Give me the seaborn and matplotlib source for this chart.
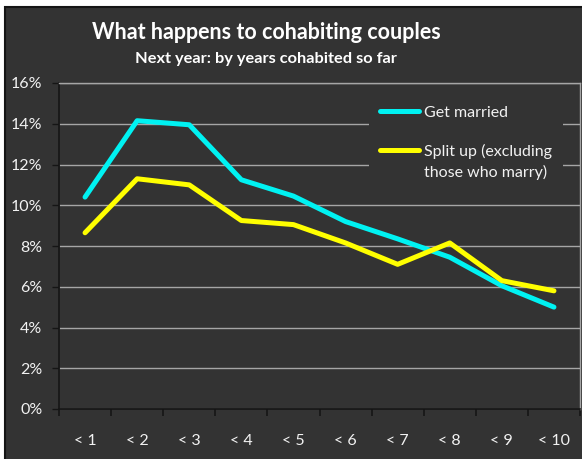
import numpy as np
import matplotlib
matplotlib.use("Agg")
import matplotlib.pyplot as plt
import seaborn as sns
from matplotlib.patches import Rectangle
from matplotlib.legend_handler import HandlerLine2D
from matplotlib.ticker import FixedLocator, FuncFormatter

# Datos (porcentaje, siguiente año)
years = ["< 1", "< 2", "< 3", "< 4", "< 5", "< 6", "< 7", "< 8", "< 9", "< 10"]
get_married = [10.4, 14.15, 13.95, 11.25, 10.45, 9.2, 8.35, 7.45, 6.05, 5.0]
split_up = [8.65, 11.3, 11.0, 9.25, 9.05, 8.15, 7.1, 8.15, 6.3, 5.8]
y_ticks = [0, 2, 4, 6, 8, 10, 12, 14, 16]

bg = "#333333"
dark = "#151515"
grid_col = "#a6a6a6"
txt = "#f2f2f2"

sns.set_style("dark", rc={"axes.facecolor": bg, "figure.facecolor": "white"})
plt.rcParams["font.family"] = ["Lato", "DejaVu Sans"]


class TopLine(HandlerLine2D):
    # alinea la línea de la leyenda con la primera línea del texto
    def __init__(self, shift=0, **kw):
        super().__init__(**kw)
        self.shift = shift

    def create_artists(self, legend, orig_handle, xdescent, ydescent, width, height, fontsize, trans):
        arts = super().create_artists(legend, orig_handle, xdescent, ydescent, width, height, fontsize, trans)
        for a in arts:
            a.set_ydata(np.asarray(a.get_ydata()) + self.shift)
        return arts


fig = plt.figure(figsize=(5.82, 4.59), dpi=100)
W, H = 582, 459
marco = Rectangle((5 / W, -0.05), 1.1, 1 - 7 / H + 0.05, transform=fig.transFigure,
                  facecolor=bg, edgecolor=dark, linewidth=1.5, zorder=-10)
fig.add_artist(marco)

ax = fig.add_axes([59 / W, (H - 409) / H, (580 - 59) / W, (409 - 83) / H])
ax.set_facecolor(bg)
ax.set_zorder(1)

pos = np.arange(len(years))
sns.lineplot(x=pos, y=get_married, ax=ax, color="#00F2F2", linewidth=3.6, label="Get married", zorder=3)
sns.lineplot(x=pos, y=split_up, ax=ax, color="#FFFF00", linewidth=3.6,
             label="Split up (excluding\nthose who marry)", zorder=3)

ax.set_xlim(-0.5, len(years) - 0.5)
ax.set_ylim(0, 16)
ax.set_yticks(y_ticks)
ax.yaxis.set_major_formatter(FuncFormatter(lambda v, p: f"{v:.0f}%"))
ax.set_xticks(pos)
ax.set_xticklabels(years)
ax.xaxis.set_minor_locator(FixedLocator(np.arange(-0.5, len(years), 1.0)))

ax.grid(False)
ax.yaxis.grid(True, color=grid_col, linewidth=1)
ax.set_axisbelow(True)

ax.tick_params(axis="y", which="major", length=5, width=1, color=dark, direction="out",
               left=True, labelsize=11.5, labelcolor=txt, pad=7)
ax.tick_params(axis="x", which="major", length=0, labelsize=11.5, labelcolor=txt, pad=18)
ax.tick_params(axis="x", which="minor", length=5, width=1.2, color=dark, direction="out", bottom=True)

for side in ["left", "bottom"]:
    ax.spines[side].set_visible(True)
    ax.spines[side].set_color(dark)
    ax.spines[side].set_linewidth(1.2)
for side in ["top", "right"]:
    ax.spines[side].set_visible(True)
    ax.spines[side].set_color(grid_col)
    ax.spines[side].set_linewidth(1)

handles, labels = ax.get_legend_handles_labels()
leg = ax.legend(handles, labels, loc="upper left", bbox_to_anchor=(0.595, 0.965), borderaxespad=0,
                frameon=True, facecolor=bg, edgecolor=bg, framealpha=1, fontsize=11.5,
                handlelength=2.45, handletextpad=0.3, borderpad=0.7, labelspacing=1.5,
                handler_map={handles[1]: TopLine(shift=8.5)})
leg.get_frame().set_linewidth(0)
for t in leg.get_texts():
    t.set_color(txt)
    t.set_linespacing(1.5)
for ln in leg.get_lines():
    ln.set_linewidth(3.6)

fig.text(266 / W, 1 - 39 / H, "What happens to cohabiting couples", ha="center", va="baseline",
         fontsize=15.5, fontweight="bold", color="white")
fig.text(266 / W, 1 - 63 / H, "Next year: by years cohabited so far", ha="center", va="baseline",
         fontsize=11.8, fontweight="bold", color="white")

fig.savefig("out.png", dpi=100)
